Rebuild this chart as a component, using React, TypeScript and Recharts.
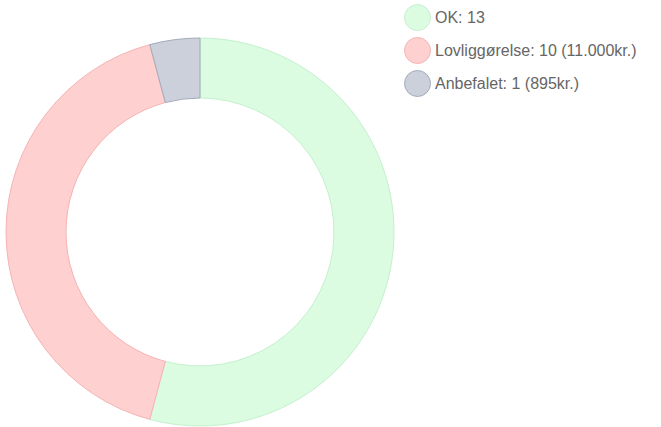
import { PieChart, Pie, Cell } from "recharts";

const labels = ["OK: 13", "Lovliggørelse: 10 (11.000kr.)", "Anbefalet: 1 (895kr.)"];
const names = ["OK", "Lovliggørelse", "Anbefalet"];
const values = [13, 10, 1];
const fills = ["#dcfce2", "#ffd0d0", "#cbd0da"];
const strokes = ["#c4f0cd", "#f5b3b3", "#a2aabb"];

const data = names.map((name, i) => ({ name, value: values[i], label: labels[i] }));

function ChartLegend() {
    return (
        <div
            style={{
                position: "absolute",
                left: 404,
                top: 1,
                fontFamily: "Arial, 'Liberation Sans', sans-serif",
                fontSize: 16,
                color: "#666",
            }}
        >
            {data.map((d, i) => (
                <div key={d.name} style={{ display: "flex", alignItems: "center", height: 33 }}>
                    <span
                        style={{
                            display: "inline-block",
                            width: 25,
                            height: 25,
                            borderRadius: "50%",
                            background: fills[i],
                            border: `1px solid ${strokes[i]}`,
                            marginRight: 4,
                        }}
                    />
                    <span>{d.label}</span>
                </div>
            ))}
        </div>
    );
}

export default function App() {
    return (
        <div style={{ position: "absolute", left: 0, top: 0, width: 661, height: 427, background: "#fff" }}>
            <PieChart width={661} height={427} margin={{ top: 0, right: 0, bottom: 0, left: 0 }}>
                <Pie
                    data={data}
                    dataKey="value"
                    nameKey="name"
                    cx={200}
                    cy={232}
                    innerRadius={134}
                    outerRadius={194}
                    startAngle={90}
                    endAngle={-270}
                    isAnimationActive={false}
                >
                    {data.map((d, i) => (
                        <Cell key={d.name} fill={fills[i]} stroke={strokes[i]} strokeWidth={1} />
                    ))}
                </Pie>
            </PieChart>
            <ChartLegend />
        </div>
    );
}
